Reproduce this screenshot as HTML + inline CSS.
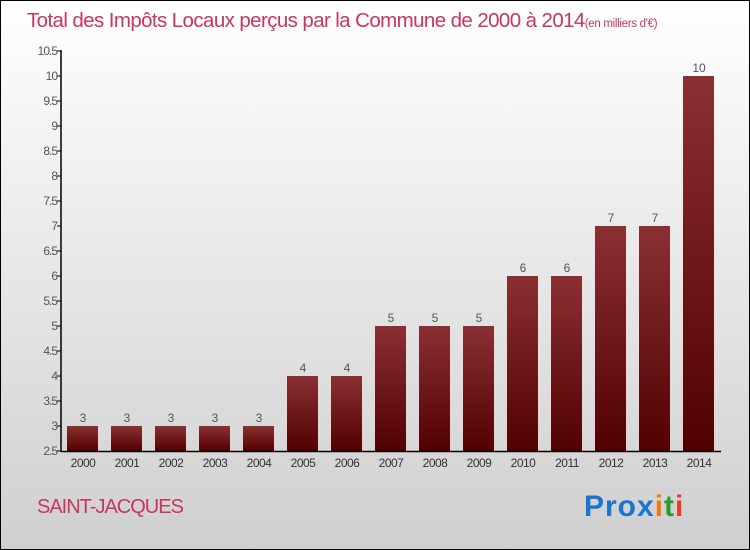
<!DOCTYPE html>
<html><head><meta charset="utf-8"><style>
body{margin:0}
#c{position:relative;width:748px;height:548px;border:1px solid #000;background:linear-gradient(#ffffff,#cfcfcf);font-family:"Liberation Sans",sans-serif;overflow:hidden}
</style></head><body>
<div id="c">
<svg id="s" width="748" height="548" style="position:absolute;left:0;top:0">
<defs><linearGradient id="g" x1="0" y1="0" x2="0" y2="1"><stop offset="0" stop-color="#8a3033"/><stop offset="1" stop-color="#520000"/></linearGradient></defs>
<text x="26" y="26" font-size="20.5" fill="#c8365f" letter-spacing="-0.6">Total des Impôts Locaux perçus par la Commune de 2000 à 2014<tspan font-size="11.5" letter-spacing="-0.3">(en milliers d'€)</tspan></text>
<text x="36" y="512" font-size="20" fill="#c8365f" letter-spacing="-1">SAINT-JACQUES</text>
<text x="583" y="515" font-size="30" font-weight="bold" letter-spacing="1"><tspan fill="#1a74d0">Pro</tspan><tspan fill="#1a74d0">x</tspan><tspan fill="#f07a10">i</tspan><tspan fill="#2a9a30">t</tspan><tspan fill="#e83a20">i</tspan></text>
<g id="plot"></g>
</svg>
</div>
<script>
const years=["2000","2001","2002","2003","2004","2005","2006","2007","2008","2009","2010","2011","2012","2013","2014"];
const values=[3,3,3,3,3,4,4,5,5,5,6,6,7,7,10];
const yTicks=[2.5,3,3.5,4,4.5,5,5.5,6,6.5,7,7.5,8,8.5,9,9.5,10,10.5];
const NS="http://www.w3.org/2000/svg";
const g=document.getElementById('plot');
const y=v=>450-(v-2.5)*50;
const x=i=>81+i*44;
function mk(t,a,txt){const e=document.createElementNS(NS,t);for(const k in a)e.setAttribute(k,a[k]);if(txt!==undefined)e.textContent=txt;g.appendChild(e);return e;}
yTicks.forEach(t=>{
  const l=mk('line',{x1:56,x2:60,y1:y(t),y2:y(t),stroke:'#000'});
  
  
  const tx=mk('text',{x:56,y:y(t)+4,'font-size':12,fill:'#555','text-anchor':'end','letter-spacing':'-1'},String(t));
  
  
});
values.forEach((v,i)=>{
  const r=mk('rect',{x:x(i)-15,y:y(v),width:31,height:450-y(v),fill:'url(#g)'});
  
  
  const lb=mk('text',{x:x(i)+1,y:y(v)-4,'font-size':12,fill:'#555','text-anchor':'middle'},String(v));
  
  
  const xl=mk('text',{x:x(i)+1,y:466,'font-size':12,fill:'#333','text-anchor':'middle','letter-spacing':'-0.5'},years[i]);
  
  
});
const ya=mk('line',{x1:60,x2:60,y1:49,y2:451,stroke:'#000','stroke-width':1.5});


const xa=mk('line',{x1:60,x2:720,y1:450.5,y2:450.5,stroke:'#000','stroke-width':1.5});


</script>
</body></html>
